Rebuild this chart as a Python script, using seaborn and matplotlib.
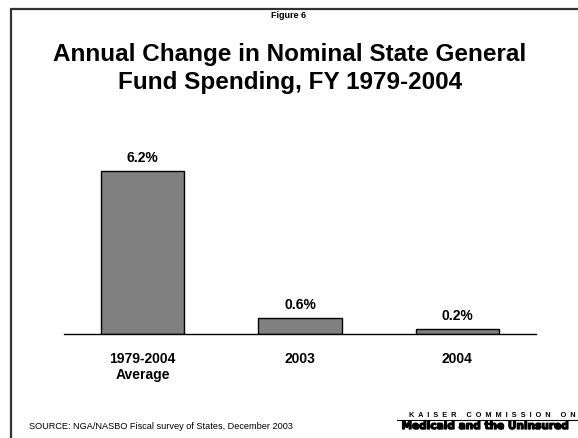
import matplotlib
matplotlib.use("Agg")
import matplotlib.pyplot as plt
import matplotlib.patheffects as pe
import seaborn as sns
import pandas as pd
from matplotlib.lines import Line2D

categories = ["1979-2004\nAverage", "2003", "2004"]
values = [6.2, 0.6, 0.2]
value_labels = ["6.2%", "0.6%", "0.2%"]

sns.set_theme(style="white")
plt.rcParams["font.family"] = ["Liberation Sans", "DejaVu Sans"]

df = pd.DataFrame({"category": categories, "value": values})

W, H = 578, 439
fig = plt.figure(figsize=(W / 100, H / 100), dpi=100)
fig.patch.set_facecolor("white")

ax = fig.add_axes([64 / W, 1 - 335 / H, 472 / W, 175 / H])
sns.barplot(data=df, x="category", y="value", color="#808080", saturation=1,
            width=0.53, edgecolor="black", linewidth=1.0, ax=ax)
ax.set_xlim(-0.5, 2.5)
ax.set_ylim(0, 175 / 26.3)
for s in ["top", "right", "left"]:
    ax.spines[s].set_visible(False)
ax.spines["bottom"].set_color("black")
ax.spines["bottom"].set_linewidth(1.0)
ax.set_yticks([])
ax.set_xlabel("")
ax.set_ylabel("")
ax.tick_params(axis="x", length=0, pad=12)
for lbl in ax.get_xticklabels():
    lbl.set_fontweight("bold")
    lbl.set_fontsize(10)
    lbl.set_color("black")
ax.bar_label(ax.containers[0], labels=value_labels, padding=5,
             fontsize=10, fontweight="bold", color="black")
ax.set_facecolor("none")

# frame lines
fig.add_artist(Line2D([11 / W, 1.0], [1 - 10 / H, 1 - 10 / H], transform=fig.transFigure,
                      color="#333333", linewidth=1.6))
fig.add_artist(Line2D([11 / W, 11 / W], [0.0, 1 - 10 / H], transform=fig.transFigure,
                      color="#333333", linewidth=1.6))

fig.text(289 / W, 1 - 15 / H, "Figure 6", ha="center", va="center",
         fontsize=6.5, fontweight="bold", color="black")
fig.text(290 / W, 1 - 68.5 / H, "Annual Change in Nominal State General\nFund Spending, FY 1979-2004",
         ha="center", va="center", fontsize=17.5, fontweight="bold", color="black",
         linespacing=1.23)

fig.text(29 / W, 1 - 427 / H, "SOURCE: NGA/NASBO Fiscal survey of States, December 2003",
         ha="left", va="center", fontsize=6.6, color="black")

fig.text(576 / W, 1 - 416 / H, "K  A  I  S  E  R     C  O  M  M  I  S  S  I  O  N     O  N",
         ha="right", va="center", fontsize=5.3, fontweight="bold", color="black")
fig.add_artist(Line2D([397 / W, 1.0], [1 - 420.5 / H, 1 - 420.5 / H], transform=fig.transFigure,
                      color="black", linewidth=0.8))
fig.text(485 / W, 1 - 427 / H, "Medicaid and the Uninsured",
         ha="center", va="center", fontsize=7.6, fontweight="bold", color="black",
         family=["DejaVu Sans"],
         path_effects=[pe.withStroke(linewidth=0.9, foreground="black")])

fig.savefig("out.png", dpi=100)
